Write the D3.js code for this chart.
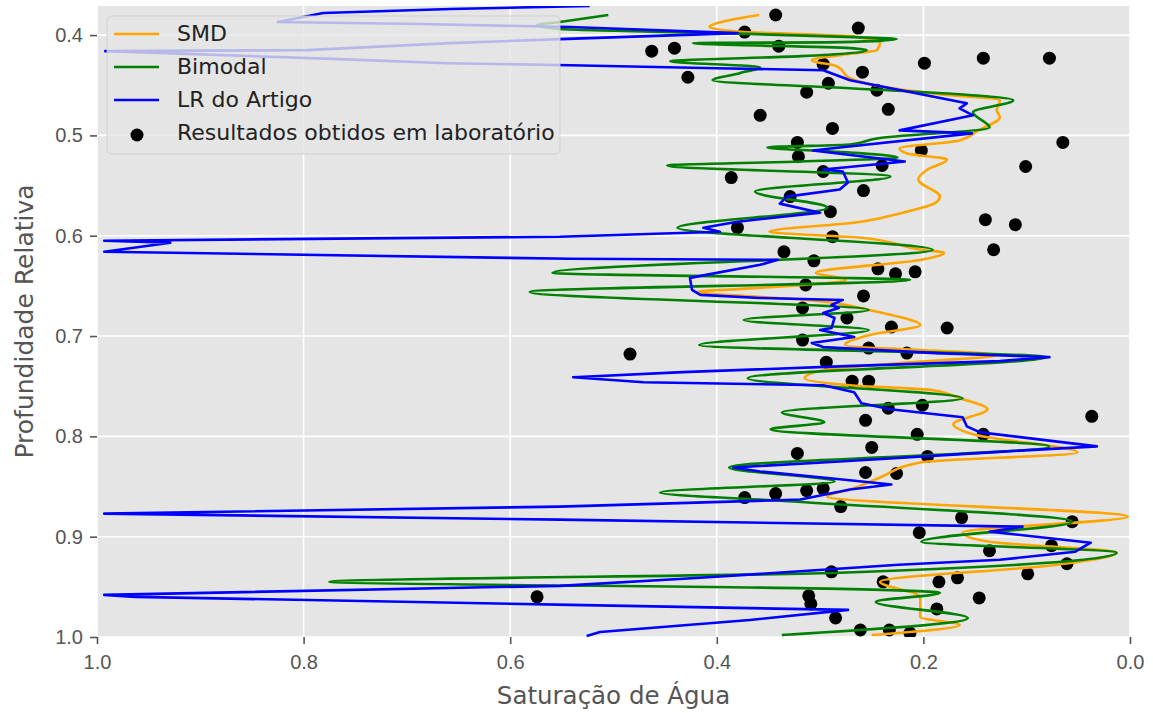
<!DOCTYPE html>
<html>
<head>
<meta charset="utf-8">
<script src="https://cdn.jsdelivr.net/npm/d3@7"></script>
<style>
  html, body { margin: 0; padding: 0; background: #fff; overflow: hidden; }
  svg { display: block; font-family: "DejaVu Sans", sans-serif; }
</style>
<script>
// perfis de saturação: [profundidade relativa, saturação]
const smd = [
  [0.380,0.359],[0.385,0.387],[0.392,0.407],[0.397,0.373],[0.399,0.319],[0.401,0.271],[0.408,0.242],
  [0.415,0.245],[0.420,0.281],[0.425,0.308],[0.431,0.284],[0.443,0.271],[0.451,0.242],[0.459,0.184],
  [0.465,0.126],[0.475,0.129],[0.482,0.126],[0.495,0.147],[0.505,0.165],[0.513,0.223],[0.518,0.216],
  [0.524,0.177],[0.534,0.196],[0.544,0.205],[0.561,0.184],[0.567,0.188],[0.577,0.220],[0.586,0.260],
  [0.596,0.349],[0.602,0.260],[0.614,0.202],[0.617,0.180],[0.624,0.202],[0.637,0.304],[0.644,0.275],
  [0.652,0.358],[0.656,0.419],[0.661,0.358],[0.664,0.312],[0.674,0.253],[0.679,0.231],[0.689,0.203],
  [0.699,0.252],[0.709,0.276],[0.719,0.129],[0.727,0.223],[0.734,0.297],[0.742,0.315],[0.749,0.271],
  [0.754,0.191],[0.762,0.165],[0.773,0.138],[0.788,0.171],[0.798,0.152],[0.816,0.051],[0.826,0.203],
  [0.841,0.242],[0.853,0.271],[0.860,0.293],[0.880,0.002],[0.896,0.162],[0.905,0.136],[0.916,0.013],
  [0.928,0.071],[0.945,0.242],[0.960,0.203],[0.980,0.203],[0.988,0.165],[0.998,0.250]
];

const bimodal = [
  [0.380,0.505],[0.387,0.552],[0.390,0.574],[0.394,0.552],[0.398,0.397],[0.402,0.268],[0.404,0.226],
  [0.407,0.281],[0.408,0.423],[0.413,0.271],[0.415,0.255],[0.421,0.319],[0.426,0.445],[0.432,0.358],
  [0.438,0.378],[0.445,0.404],[0.453,0.271],[0.459,0.165],[0.465,0.113],[0.477,0.152],[0.492,0.136],
  [0.503,0.245],[0.509,0.271],[0.512,0.351],[0.517,0.271],[0.522,0.225],[0.526,0.319],[0.530,0.448],
  [0.541,0.232],[0.556,0.363],[0.572,0.293],[0.592,0.438],[0.614,0.191],[0.637,0.559],[0.644,0.213],
  [0.656,0.581],[0.674,0.253],[0.684,0.374],[0.694,0.253],[0.709,0.417],[0.721,0.081],[0.742,0.370],
  [0.762,0.162],[0.776,0.337],[0.786,0.296],[0.793,0.348],[0.810,0.078],[0.831,0.388],[0.845,0.286],
  [0.856,0.455],[0.865,0.326],[0.885,0.056],[0.905,0.202],[0.916,0.013],[0.936,0.281],[0.945,0.775],
  [0.952,0.281],[0.956,0.184],[0.965,0.246],[0.981,0.157],[0.998,0.337]
];

const lrArtigo = [
  [0.371,0.523],[0.374,0.658],[0.378,0.781],[0.387,0.825],[0.389,0.687],[0.392,0.542],[0.398,0.380],
  [0.404,0.552],[0.408,0.658],[0.415,0.797],[0.416,0.992],[0.424,0.765],[0.428,0.661],[0.430,0.542],
  [0.433,0.400],[0.435,0.297],[0.445,0.271],[0.468,0.158],[0.473,0.165],[0.480,0.152],[0.495,0.223],
  [0.498,0.153],[0.512,0.281],[0.515,0.307],[0.526,0.218],[0.534,0.297],[0.536,0.278],[0.547,0.273],
  [0.554,0.281],[0.561,0.332],[0.568,0.339],[0.577,0.300],[0.586,0.380],[0.592,0.413],[0.596,0.397],
  [0.601,0.552],[0.605,0.993],[0.607,0.929],[0.616,0.993],[0.623,0.542],[0.624,0.341],[0.629,0.358],
  [0.642,0.426],[0.654,0.424],[0.659,0.416],[0.662,0.358],[0.664,0.278],[0.669,0.289],[0.672,0.282],
  [0.677,0.297],[0.682,0.286],[0.692,0.289],[0.694,0.300],[0.701,0.267],[0.707,0.308],[0.711,0.297],
  [0.717,0.188],[0.721,0.078],[0.725,0.126],[0.730,0.275],[0.736,0.433],[0.741,0.539],[0.746,0.471],
  [0.749,0.297],[0.756,0.267],[0.767,0.260],[0.773,0.232],[0.781,0.162],[0.790,0.158],[0.796,0.145],
  [0.810,0.032],[0.815,0.119],[0.825,0.281],[0.831,0.384],[0.835,0.358],[0.842,0.288],[0.848,0.231],
  [0.853,0.271],[0.863,0.319],[0.870,0.552],[0.877,0.993],[0.883,0.552],[0.890,0.104],[0.895,0.136],
  [0.906,0.038],[0.915,0.053],[0.923,0.126],[0.928,0.224],[0.941,0.416],[0.949,0.552],[0.958,0.993],
  [0.960,0.963],[0.968,0.542],[0.973,0.273],[0.983,0.368],[0.995,0.513],[0.999,0.526]
];

// resultados de laboratório: [profundidade relativa, saturação]
const laboratorio = [
  [0.380,0.343],[0.397,0.373],[0.393,0.263],[0.416,0.463],[0.413,0.441],[0.411,0.340],[0.429,0.297],
  [0.428,0.199],[0.423,0.142],[0.423,0.078],[0.437,0.259],[0.442,0.428],[0.448,0.292],[0.455,0.245],
  [0.457,0.313],[0.474,0.234],[0.480,0.358],[0.493,0.288],[0.507,0.065],[0.507,0.322],[0.515,0.202],
  [0.521,0.321],[0.530,0.240],[0.531,0.101],[0.536,0.297],[0.542,0.386],[0.555,0.258],[0.561,0.329],
  [0.576,0.290],[0.584,0.140],[0.589,0.111],[0.592,0.380],[0.601,0.288],[0.614,0.132],[0.616,0.335],
  [0.625,0.306],[0.633,0.244],[0.636,0.208],[0.638,0.227],[0.649,0.314],[0.660,0.258],[0.672,0.317],
  [0.682,0.274],[0.691,0.231],[0.692,0.177],[0.704,0.317],[0.712,0.253],[0.718,0.484],[0.717,0.216],
  [0.726,0.294],[0.745,0.269],[0.745,0.253],[0.769,0.201],[0.772,0.234],[0.780,0.037],[0.784,0.256],
  [0.798,0.206],[0.798,0.142],[0.811,0.250],[0.820,0.196],[0.817,0.322],[0.836,0.256],[0.837,0.226],
  [0.852,0.297],[0.854,0.313],[0.857,0.343],[0.861,0.373],[0.870,0.280],[0.881,0.163],[0.885,0.056],
  [0.896,0.204],[0.909,0.076],[0.914,0.136],[0.927,0.061],[0.935,0.289],[0.937,0.099],[0.941,0.167],
  [0.945,0.239],[0.945,0.185],[0.960,0.574],[0.961,0.146],[0.959,0.311],[0.967,0.309],[0.972,0.187],
  [0.981,0.285],[0.993,0.261],[0.993,0.233],[0.996,0.213]
];

const xTicks = [1.0, 0.8, 0.6, 0.4, 0.2, 0.0];
const yTicks = [0.4, 0.5, 0.6, 0.7, 0.8, 0.9, 1.0];

function drawChart() {
  const width = 1153, height = 713;
  const margin = { top: 6, right: 23, bottom: 76, left: 97 };
  const innerWidth = width - margin.left - margin.right;
  const innerHeight = height - margin.top - margin.bottom;

  const svg = d3.select('#chart').append('svg')
    .attr('width', width)
    .attr('height', height);

  const g = svg.append('g')
    .attr('transform', `translate(${margin.left},${margin.top})`);

  // eixo x invertido (1 -> 0), profundidade cresce para baixo
  const x = d3.scaleLinear().domain([1.0, 0.0]).range([0, innerWidth]);
  const y = d3.scaleLinear().domain([0.371, 1.0]).range([0, innerHeight]);

  g.append('rect')
    .attr('width', innerWidth)
    .attr('height', innerHeight)
    .attr('fill', '#E5E5E5');

  // grade branca
  g.append('g').attr('class', 'grid')
    .selectAll('line')
    .data(xTicks)
    .enter()
    .append('line')
    .attr('x1', d => x(d)).attr('x2', d => x(d))
    .attr('y1', 0).attr('y2', innerHeight)
    .attr('stroke', '#fff').attr('stroke-width', 1.6);

  g.append('g').attr('class', 'grid')
    .selectAll('line')
    .data(yTicks)
    .enter()
    .append('line')
    .attr('x1', 0).attr('x2', innerWidth)
    .attr('y1', d => y(d)).attr('y2', d => y(d))
    .attr('stroke', '#fff').attr('stroke-width', 1.6);

  // eixos
  const xAxis = g.append('g')
    .attr('transform', `translate(0,${innerHeight})`)
    .call(d3.axisBottom(x).tickValues(xTicks).tickFormat(d3.format('.1f')).tickSize(7).tickPadding(11));
  const yAxis = g.append('g')
    .call(d3.axisLeft(y).tickValues(yTicks).tickFormat(d3.format('.1f')).tickSize(7).tickPadding(7));

  [xAxis, yAxis].forEach(a => {
    a.select('.domain').remove();
    a.selectAll('line').attr('stroke', '#555').attr('stroke-width', 1.6);
    a.selectAll('text').attr('fill', '#555').style('font-size', '20px');
  });

  g.append('clipPath').attr('id', 'clip')
    .append('rect').attr('width', innerWidth).attr('height', innerHeight);

  const plot = g.append('g').attr('clip-path', 'url(#clip)');

  // pontos de laboratório ficam por baixo das curvas (como no matplotlib)
  plot.selectAll('.lab')
    .data(laboratorio)
    .enter()
    .append('circle')
    .attr('class', 'lab')
    .attr('cx', d => x(d[1]))
    .attr('cy', d => y(d[0]))
    .attr('r', 6.5)
    .attr('fill', '#000');

  const series = [
    { name: 'SMD', data: smd, color: 'orange', curve: d3.curveMonotoneY },
    { name: 'Bimodal', data: bimodal, color: 'green', curve: d3.curveMonotoneY },
    { name: 'LR do Artigo', data: lrArtigo, color: 'blue', curve: d3.curveLinear }
  ];

  series.forEach(s => {
    const line = d3.line()
      .x(d => x(d[1]))
      .y(d => y(d[0]))
      .curve(s.curve);
    plot.append('path')
      .datum(s.data)
      .attr('fill', 'none')
      .attr('stroke', s.color)
      .attr('stroke-width', 2.6)
      .attr('stroke-linejoin', 'round')
      .attr('d', line);
  });

  // legenda
  const legend = svg.append('g').attr('transform', 'translate(107,16)');
  legend.append('rect')
    .attr('width', 453)
    .attr('height', 138)
    .attr('rx', 5)
    .attr('fill', '#E5E5E5')
    .attr('fill-opacity', 0.8)
    .attr('stroke', '#CCCCCC')
    .attr('stroke-opacity', 0.8);

  series.forEach((s, i) => {
    const ly = 18 + i * 33;
    legend.append('line')
      .attr('x1', 7).attr('x2', 52)
      .attr('y1', ly).attr('y2', ly)
      .attr('stroke', s.color)
      .attr('stroke-width', 2.6);
    legend.append('text')
      .attr('x', 70).attr('y', ly - 1)
      .attr('dy', '0.35em')
      .style('font-size', '22px')
      .attr('fill', '#222')
      .text(s.name);
  });
  legend.append('circle')
    .attr('cx', 30).attr('cy', 18 + 3 * 33 + 2)
    .attr('r', 6.5)
    .attr('fill', '#000');
  legend.append('text')
    .attr('x', 70).attr('y', 18 + 3 * 33 - 1)
    .attr('dy', '0.35em')
    .style('font-size', '22px')
    .attr('fill', '#222')
    .text('Resultados obtidos em laboratório');

  // títulos dos eixos
  svg.append('text')
    .attr('x', margin.left + innerWidth / 2)
    .attr('y', 704)
    .attr('text-anchor', 'middle')
    .style('font-size', '24.5px')
    .attr('fill', '#555')
    .text('Saturação de Água');

  svg.append('text')
    .attr('transform', `translate(24,${margin.top + innerHeight / 2}) rotate(-90)`)
    .attr('dy', '0.35em')
    .attr('text-anchor', 'middle')
    .style('font-size', '25px')
    .attr('fill', '#555')
    .text('Profundidade Relativa');
}

document.addEventListener('DOMContentLoaded', drawChart);
</script>
</head>
<body><div id="chart"></div></body>
</html>
